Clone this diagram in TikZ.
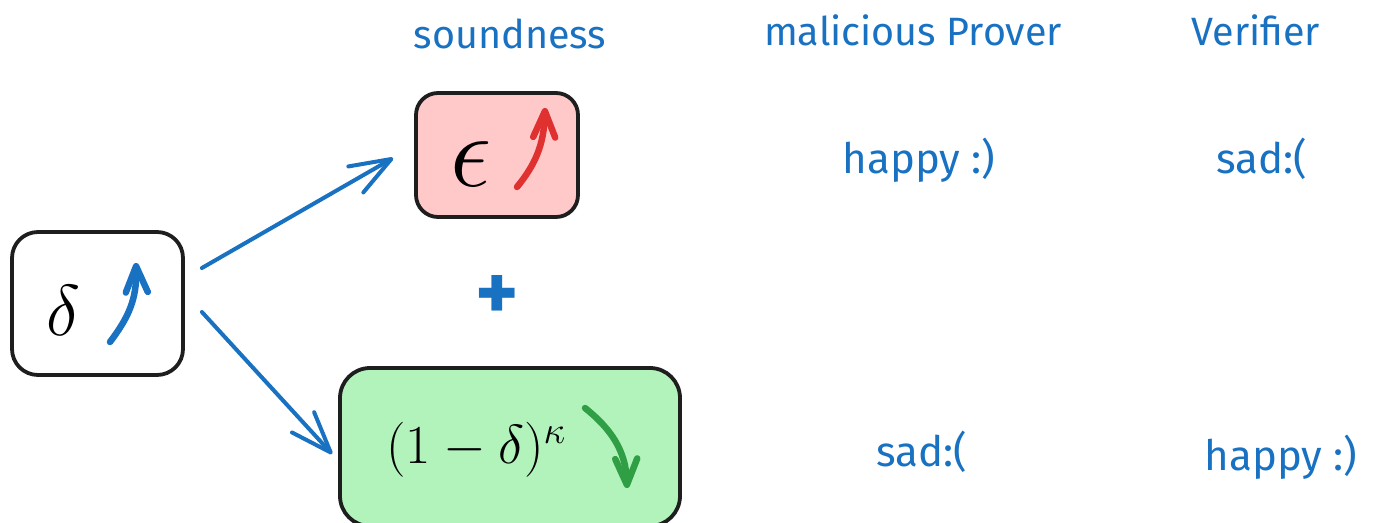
\RequirePackage{fix-cm}
\documentclass[tikz,border=0pt]{standalone}
\usepackage{fontspec}
\newfontfamily\hand{Fira Sans}
\usetikzlibrary{arrows.meta}
\definecolor{eblue}{HTML}{1971C2}
\definecolor{ered}{HTML}{E03131}
\definecolor{egreen}{HTML}{2F9E44}
\definecolor{epink}{HTML}{FFC9C9}
\definecolor{elgreen}{HTML}{B2F2BB}
\definecolor{eblack}{HTML}{1E1E1E}
\tikzset{
  box/.style={draw=eblack, line width=3.8pt, rectangle, inner sep=0pt},
  lbl/.style={text=eblue, font=\hand\fontsize{39.5}{44}\selectfont, anchor=base, inner sep=0pt},
  arr/.style={draw=eblue, line width=4pt, line cap=round,
    -{Straight Barb[length=41pt,width=30pt,round]}},
  trend/.style={line width=6.5pt, line cap=round,
    -{Straight Barb[length=26pt,width=22pt,round]}},
}
\begin{document}
\begin{tikzpicture}[x=1pt,y=-1pt]
\useasboundingbox (0,0) rectangle (1380,522);
\clip (0,0) rectangle (1380,522);
% boxes
\node[box, fill=white, minimum width=171pt, minimum height=143pt, rounded corners=26pt] (d) at (97.5,303.5) {};
\node[box, fill=epink, minimum width=162pt, minimum height=124pt, rounded corners=22pt] (e) at (497,155) {};
\node[box, fill=elgreen, minimum width=340pt, minimum height=158pt, rounded corners=30pt] (g) at (510,447) {};
% math
\node[anchor=base, inner sep=0pt, font=\fontsize{72}{80}\selectfont] (dm) at (63,335) {$\delta$};
\node[anchor=base, inner sep=0pt, font=\fontsize{104}{110}\selectfont] (em) at (471,186) {$\epsilon$};
\node[anchor=base, inner sep=0pt, font=\fontsize{55}{60}\selectfont] (gm) at (476,463) {$(1-\delta)^{\kappa}$};
% trend arrows
\draw[trend, eblue] (110,342) .. controls (128,318) and (137,300) .. (136,263);
\draw[trend, ered] (517,187) .. controls (535,165) and (544,145) .. (545,108);
\draw[trend, egreen] (585,408) .. controls (610,428) and (626,450) .. (627,488);
% connectors
\draw[arr] ([xshift=17pt,yshift=35.5pt]d.east) -- ([xshift=-21pt,yshift=-3pt]e.west);
\draw[arr] ([xshift=17pt,yshift=-8.5pt]d.east) -- ([xshift=-6pt,yshift=-7pt]g.west);
% labels
\node[lbl] (s) at (510,48) {soundness};
\node[lbl] (mp) at (913,45) {malicious Prover};
\node[lbl] (v) at (1256,45) {Verifier};
\node[lbl, font=\hand\fontsize{42}{46}\selectfont] (h1) at (919,173) {happy :)};
\node[lbl, font=\hand\fontsize{42}{46}\selectfont] (s1) at (1262,173) {sad:(};
\node[text=eblue, font=\hand\bfseries\fontsize{82}{82}\selectfont, inner sep=0pt] (p) at (497,298) {+};
\node[lbl, font=\hand\fontsize{42}{46}\selectfont] (s2) at (922,466) {sad:(};
\node[lbl, font=\hand\fontsize{42}{46}\selectfont] (h2) at (1281,470) {happy :)};
\end{tikzpicture}
\end{document}
